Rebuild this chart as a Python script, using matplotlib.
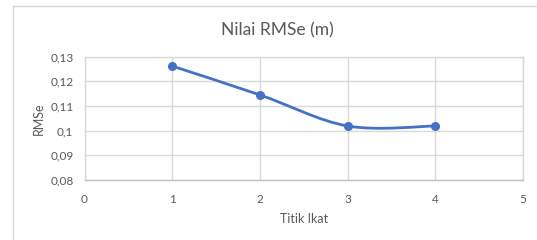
import matplotlib
matplotlib.use("Agg")
import matplotlib.pyplot as plt
from matplotlib.path import Path
from matplotlib.patches import PathPatch
from matplotlib.lines import Line2D
import numpy as np

title = "Nilai RMSe (m)"
x_label = "Titik Ikat"
y_label = "RMSe"
titik = [1, 2, 3, 4]
rmse = [0.1262, 0.1145, 0.1019, 0.1019]
x_ticks = [0, 1, 2, 3, 4, 5]
y_ticks = [0.08, 0.09, 0.10, 0.11, 0.12, 0.13]
y_tick_labels = ["0,08", "0,09", "0,1", "0,11", "0,12", "0,13"]

plt.rcParams['font.family'] = ['Lato', 'DejaVu Sans']
text_col = "#595959"
grid_col = "#d9d9d9"
line_col = "#4472C4"

fig = plt.figure(figsize=(5.37, 2.40), dpi=100)
ax = fig.add_axes([84.5/537, 60/240, (523-84.5)/537, (180-56.7)/240])

# outer chart border (left and top visible)
fig.add_artist(Line2D([13/537, 13/537], [0, 1-6/240], transform=fig.transFigure, color=grid_col, lw=1))
fig.add_artist(Line2D([13/537, 1.0], [1-6/240, 1-6/240], transform=fig.transFigure, color=grid_col, lw=1))

# smoothed line (Excel-like Catmull-Rom Bezier)
P = np.column_stack([titik, rmse]).astype(float)
n = len(P)
verts = [tuple(P[0])]
codes = [Path.MOVETO]
for i in range(n - 1):
    p0 = P[i - 1] if i > 0 else P[i]
    p1 = P[i]
    p2 = P[i + 1]
    p3 = P[i + 2] if i + 2 < n else P[i + 1]
    c1 = p1 + (p2 - p0) / 6
    c2 = p2 - (p3 - p1) / 6
    verts += [tuple(c1), tuple(c2), tuple(p2)]
    codes += [Path.CURVE4] * 3
ax.add_patch(PathPatch(Path(verts, codes), facecolor='none', edgecolor=line_col, lw=2.0, zorder=3, capstyle='round'))
ax.plot(titik, rmse, linestyle='none', marker='o', markersize=5.5, color=line_col, zorder=4)

ax.set_xlim(0, 5)
ax.set_ylim(0.08, 0.13)
ax.set_xticks(x_ticks)
ax.set_xticklabels([str(t) for t in x_ticks])
ax.set_yticks(y_ticks)
ax.set_yticklabels(y_tick_labels)
ax.grid(True, color=grid_col, lw=1)
ax.set_axisbelow(True)
for s in ax.spines.values():
    s.set_color(grid_col)
    s.set_linewidth(1)
ax.spines['bottom'].set_color("#bfbfbf")
ax.tick_params(length=0, colors=text_col, labelsize=8.5)
ax.tick_params(axis='x', pad=10)
ax.tick_params(axis='y', pad=8)
ax.set_xlabel(x_label, color=text_col, fontsize=9, labelpad=6)
ax.set_ylabel(y_label, color=text_col, fontsize=9, labelpad=4)
fig.text(277/537, 1 - 30/240, title, color=text_col, fontsize=12.5, ha='center', va='center')

fig.savefig("out.png", dpi=100)
